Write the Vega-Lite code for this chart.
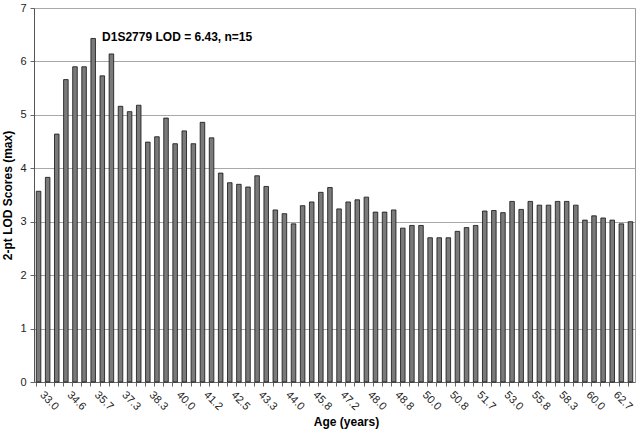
{
  "$schema": "https://vega.github.io/schema/vega-lite/v6.json",
  "autosize": "none",
  "width": 601,
  "height": 374,
  "padding": {"left": 34, "top": 8, "right": 4, "bottom": 52},
  "background": "white",
  "config": {
    "font": "Liberation Sans",
    "view": {"stroke": "#9a9a9a", "strokeWidth": 1}
  },
  "datasets": {
    "bars": [
      {"bar": "01|33.0", "lod": 3.57}, {"bar": "02|", "lod": 3.83}, {"bar": "03|", "lod": 4.64},
      {"bar": "04|34.6", "lod": 5.66}, {"bar": "05|", "lod": 5.90}, {"bar": "06|", "lod": 5.90},
      {"bar": "07|35.7", "lod": 6.43}, {"bar": "08|", "lod": 5.73}, {"bar": "09|", "lod": 6.14},
      {"bar": "10|37.3", "lod": 5.16}, {"bar": "11|", "lod": 5.06}, {"bar": "12|", "lod": 5.18},
      {"bar": "13|38.3", "lod": 4.49}, {"bar": "14|", "lod": 4.59}, {"bar": "15|", "lod": 4.94},
      {"bar": "16|40.0", "lod": 4.46}, {"bar": "17|", "lod": 4.70}, {"bar": "18|", "lod": 4.46},
      {"bar": "19|41.2", "lod": 4.86}, {"bar": "20|", "lod": 4.57}, {"bar": "21|", "lod": 3.91},
      {"bar": "22|42.5", "lod": 3.73}, {"bar": "23|", "lod": 3.70}, {"bar": "24|", "lod": 3.65},
      {"bar": "25|43.3", "lod": 3.86}, {"bar": "26|", "lod": 3.66}, {"bar": "27|", "lod": 3.22},
      {"bar": "28|44.0", "lod": 3.15}, {"bar": "29|", "lod": 2.96}, {"bar": "30|", "lod": 3.30},
      {"bar": "31|45.8", "lod": 3.37}, {"bar": "32|", "lod": 3.55}, {"bar": "33|", "lod": 3.64},
      {"bar": "34|47.2", "lod": 3.24}, {"bar": "35|", "lod": 3.37}, {"bar": "36|", "lod": 3.41},
      {"bar": "37|48.0", "lod": 3.46}, {"bar": "38|", "lod": 3.18}, {"bar": "39|", "lod": 3.18},
      {"bar": "40|48.8", "lod": 3.22}, {"bar": "41|", "lod": 2.88}, {"bar": "42|", "lod": 2.93},
      {"bar": "43|50.0", "lod": 2.93}, {"bar": "44|", "lod": 2.70}, {"bar": "45|", "lod": 2.70},
      {"bar": "46|50.8", "lod": 2.70}, {"bar": "47|", "lod": 2.82}, {"bar": "48|", "lod": 2.89},
      {"bar": "49|51.7", "lod": 2.93}, {"bar": "50|", "lod": 3.20}, {"bar": "51|", "lod": 3.21},
      {"bar": "52|53.0", "lod": 3.17}, {"bar": "53|", "lod": 3.38}, {"bar": "54|", "lod": 3.23},
      {"bar": "55|55.8", "lod": 3.38}, {"bar": "56|", "lod": 3.31}, {"bar": "57|", "lod": 3.31},
      {"bar": "58|58.3", "lod": 3.38}, {"bar": "59|", "lod": 3.38}, {"bar": "60|", "lod": 3.31},
      {"bar": "61|60.0", "lod": 3.03}, {"bar": "62|", "lod": 3.11}, {"bar": "63|", "lod": 3.07},
      {"bar": "64|62.7", "lod": 3.03}, {"bar": "65|", "lod": 2.96}, {"bar": "66|", "lod": 3.00}
    ],
    "note": [
      {"bar": "16|40.0", "lod": 6.45, "text": "D1S2779 LOD = 6.43, n=15"}
    ]
  },
  "layer": [
    {
      "data": {"name": "bars"},
      "mark": {"type": "bar", "fill": "#7a7a7a", "stroke": "#111111", "strokeWidth": 0.8},
      "encoding": {
        "x": {
          "field": "bar",
          "type": "ordinal",
          "sort": null,
          "scale": {"paddingInner": 0.5, "paddingOuter": 0.25},
          "axis": {
            "title": "Age (years)",
            "titleFont": "Liberation Sans",
            "titleFontSize": 12,
            "titleFontWeight": "bold",
            "titleColor": "#000000",
            "titlePadding": 5,
            "titleX": 312,
            "labelExpr": "split(datum.value, '|')[1]",
            "labelAngle": 45,
            "labelAlign": "left",
            "labelBaseline": "middle",
            "labelFontSize": 11,
            "labelColor": "#222222",
            "labelPadding": 7,
            "labelOverlap": false,
            "bandPosition": 0,
            "labelOffset": 3,
            "tickSize": 4,
            "tickColor": "#666666",
            "domainColor": "#666666",
            "grid": false
          }
        },
        "y": {
          "field": "lod",
          "type": "quantitative",
          "scale": {"domain": [0, 7], "nice": false},
          "axis": {
            "title": "2-pt LOD Scores (max)",
            "titleFont": "Liberation Sans",
            "titleFontSize": 12,
            "titleFontWeight": "bold",
            "titleColor": "#000000",
            "titlePadding": 5,
            "values": [0, 1, 2, 3, 4, 5, 6, 7],
            "format": "d",
            "labelFontSize": 11,
            "labelColor": "#222222",
            "labelPadding": 4,
            "tickSize": 4,
            "tickColor": "#666666",
            "domainColor": "#555555",
            "grid": true,
            "gridColor": "#a8a8a8",
            "gridWidth": 1
          }
        }
      }
    },
    {
      "data": {"name": "note"},
      "mark": {"type": "text", "fontWeight": "bold", "fontSize": 12, "align": "center", "baseline": "middle", "dx": 2, "color": "#000000"},
      "encoding": {
        "x": {"field": "bar", "type": "ordinal", "sort": null},
        "y": {"field": "lod", "type": "quantitative"},
        "text": {"field": "text"}
      }
    }
  ]
}
